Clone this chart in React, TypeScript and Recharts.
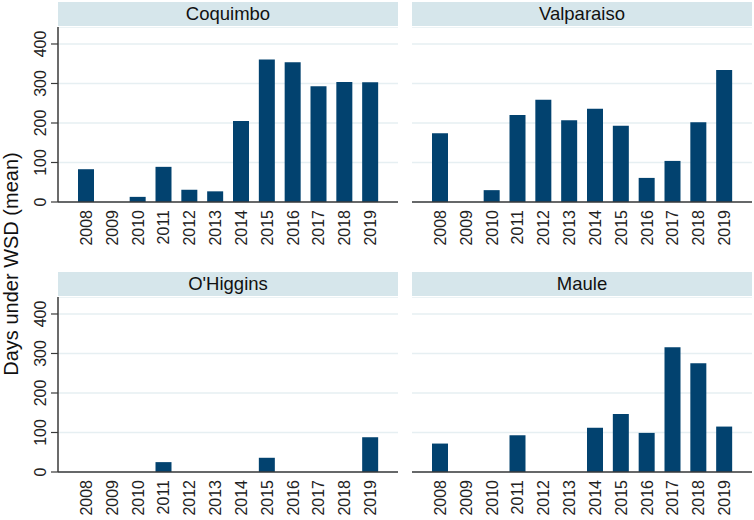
import React from "react";
import { BarChart, Bar, XAxis, YAxis, CartesianGrid } from "recharts";

const YEARS = ["2008", "2009", "2010", "2011", "2012", "2013", "2014", "2015", "2016", "2017", "2018", "2019"];
const COQUIMBO = [83, 0, 13, 89, 31, 27, 205, 361, 354, 293, 304, 303];
const VALPARAISO = [174, 0, 30, 220, 259, 207, 236, 193, 61, 104, 202, 334];
const OHIGGINS = [0, 0, 0, 25, 0, 0, 0, 36, 0, 0, 0, 88];
const MAULE = [72, 0, 0, 93, 0, 0, 112, 147, 99, 316, 275, 115];
const Y_TICKS = [0, 100, 200, 300, 400];

const FONT = '"Liberation Sans", Arial, sans-serif';
const NAVY = "#02426f";
const STRIP = "#d6e6eb";
const GRID = "#e6eff2";
const AXIS = "#3a3a3a";

const rows = (vals: number[]) => YEARS.map((year, i) => ({ year, value: vals[i] }));

const XTick = (props: any) => {
  const { x, y, payload } = props;
  const bx = x + 6;
  return (
    <text x={bx} y={y} transform={`rotate(-90, ${bx}, ${y})`} textAnchor="end" fontSize={16} fontFamily={FONT} fill="#222">
      {payload.value}
    </text>
  );
};

const YTick = (props: any) => {
  const { x, y, payload } = props;
  return (
    <text x={x} y={y} transform={`rotate(-90, ${x}, ${y})`} textAnchor="middle" fontSize={16} fontFamily={FONT} fill="#222">
      {payload.value}
    </text>
  );
};

function Panel({ title, vals, left, top, withAxis }: { title: string; vals: number[]; left: number; top: number; withAxis: boolean }) {
  const plotLeft = withAxis ? left + 58 : left;
  return (
    <>
      <div
        style={{
          position: "absolute",
          left: plotLeft,
          top: top,
          width: 340,
          height: 24,
          background: STRIP,
          fontFamily: FONT,
          fontSize: 18.5,
          lineHeight: "24px",
          textAlign: "center",
          color: "#111",
        }}
      >
        {title}
      </div>
      <div style={{ position: "absolute", left: left, top: top + 25 }}>
        <BarChart width={withAxis ? 398 : 340} height={225} data={rows(vals)} margin={{ top: 0, right: 0, bottom: 0, left: 0 }}>
          <CartesianGrid vertical={false} stroke={GRID} strokeWidth={1.5} />
          <XAxis
            dataKey="year"
            height={50}
            padding={{ left: 15, right: 15 }}
            tickLine={false}
            tickSize={0}
            tickMargin={8}
            axisLine={{ stroke: AXIS, strokeWidth: 1.5 }}
            tick={<XTick />}
            interval={0}
          />
          <YAxis
            hide={!withAxis}
            width={58}
            domain={[0, 443]}
            ticks={Y_TICKS}
            tickSize={7}
            tickMargin={5}
            tickLine={{ stroke: AXIS, strokeWidth: 1.2 }}
            axisLine={{ stroke: AXIS, strokeWidth: 1.5 }}
            tick={<YTick />}
          />
          <Bar dataKey="value" fill={NAVY} barSize={16} isAnimationActive={false} />
        </BarChart>
      </div>
    </>
  );
}

export default function App() {
  return (
    <div style={{ position: "absolute", left: 0, top: 0, width: 754, height: 520, background: "#fff", overflow: "hidden" }}>
      <svg width={30} height={520} style={{ position: "absolute", left: 0, top: 0 }}>
        <text x={18} y={264} transform="rotate(-90, 18, 264)" textAnchor="middle" fontSize={20} fontFamily={FONT} fill="#111">
          Days under WSD (mean)
        </text>
      </svg>
      <Panel title="Coquimbo" vals={COQUIMBO} left={0} top={2} withAxis={true} />
      <Panel title="Valparaiso" vals={VALPARAISO} left={412} top={2} withAxis={false} />
      <Panel title="O'Higgins" vals={OHIGGINS} left={0} top={272} withAxis={true} />
      <Panel title="Maule" vals={MAULE} left={412} top={272} withAxis={false} />
    </div>
  );
}
